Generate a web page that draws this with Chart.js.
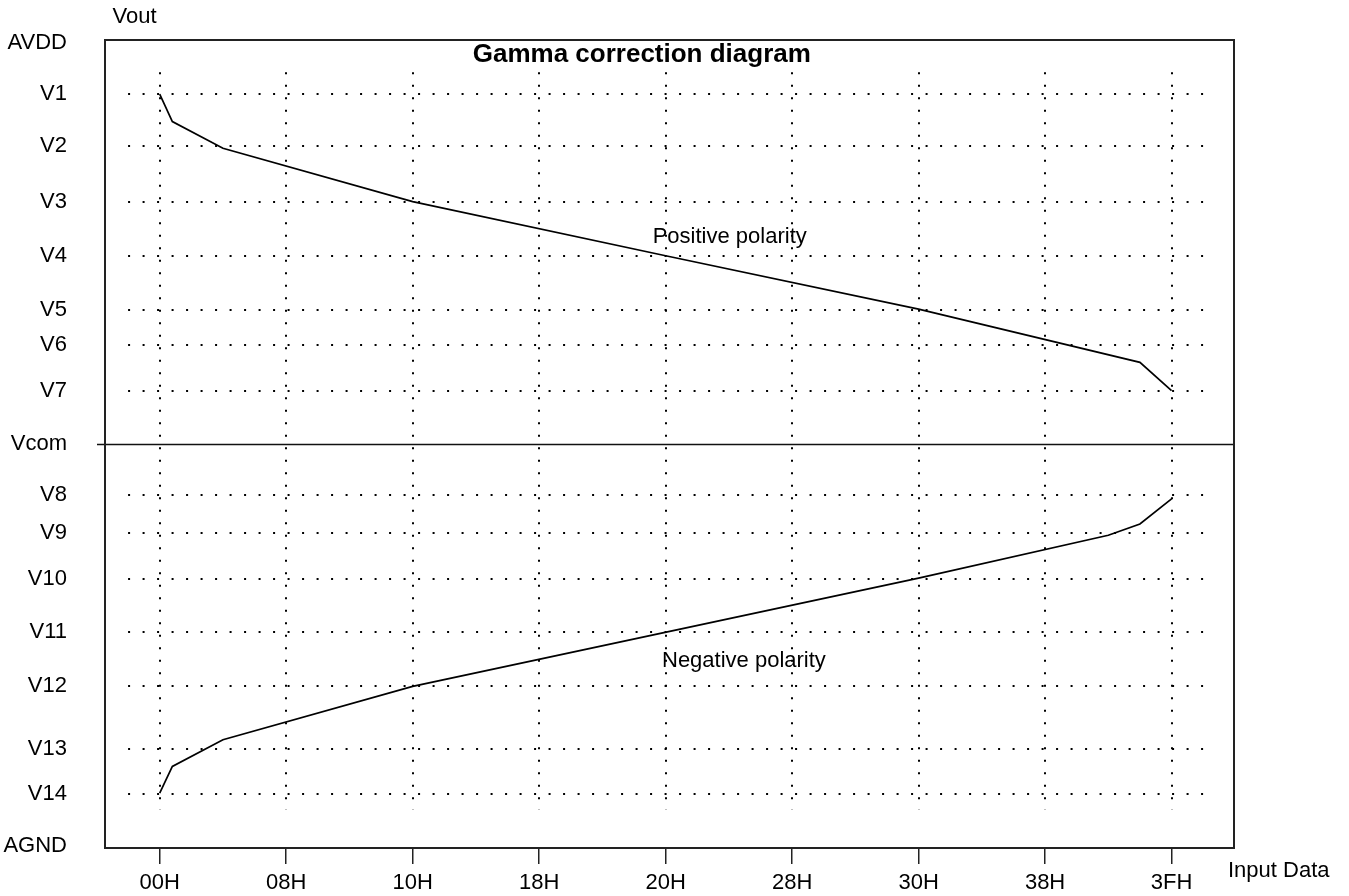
<!DOCTYPE html>
<html>
<head>
<meta charset="utf-8">
<title>Gamma correction diagram</title>
<script src="https://cdn.jsdelivr.net/npm/chart.js@4.4.1/dist/chart.umd.min.js"></script>
<style>
  html, body { margin: 0; padding: 0; background: #fff; }
  canvas { display: block; }
</style>
</head>
<body>
<canvas id="gamma" width="1349" height="896"></canvas>
<script>
// input codes on the x axis (3FH sits one step after 38H, as in the original)
var xTickValues = [0, 8, 16, 24, 32, 40, 48, 56, 64];
var xTickLabels = ['00H', '08H', '10H', '18H', '20H', '28H', '30H', '38H', '3FH'];

// reference voltage levels, AGND = 0 .. AVDD = 100
var levelNames = ['AVDD', 'V1', 'V2', 'V3', 'V4', 'V5', 'V6', 'V7', 'Vcom',
                  'V8', 'V9', 'V10', 'V11', 'V12', 'V13', 'V14', 'AGND'];
var levelValues = [99.6, 93.3, 86.9, 80.0, 73.3, 66.6, 62.3, 56.6, 50.0,
                   43.7, 39.0, 33.3, 26.7, 20.1, 12.3, 6.7, 0.2];

// positive polarity curve
var positiveX = [0, 0.8, 4, 16, 32, 48, 62, 64];
var positiveY = [93.3, 89.9, 86.6, 80.0, 73.3, 66.7, 60.1, 56.6];

// negative polarity curve
var negativeX = [0, 0.8, 4, 16, 48, 60, 62, 64];
var negativeY = [6.8, 10.1, 13.4, 20.0, 33.4, 38.7, 40.1, 43.2];

function toPoints(xs, ys) {
    return xs.map(function(x, i) { return { x: x, y: ys[i] }; });
}

var FONT = "'Liberation Sans', Arial, sans-serif";

var gammaDecor = {
    id: 'gammaDecor',
    beforeDatasetsDraw: function(chart) {
        var ctx = chart.ctx, xs = chart.scales.x, ys = chart.scales.y;
        ctx.save();
        ctx.strokeStyle = '#000';
        ctx.lineWidth = 2;
        // dotted level lines (not for AVDD, Vcom, AGND)
        ctx.setLineDash([2, 12.5]);
        levelNames.forEach(function(name, i) {
            if (name.charAt(0) !== 'V' || name === 'Vcom') return;
            var y = Math.round(ys.getPixelForValue(levelValues[i]));
            ctx.beginPath();
            ctx.moveTo(xs.getPixelForValue(-2), y);
            ctx.lineTo(xs.getPixelForValue(66), y);
            ctx.stroke();
        });
        // dotted code lines
        ctx.setLineDash([2, 10.5]);
        xTickValues.forEach(function(v) {
            var x = Math.round(xs.getPixelForValue(v));
            ctx.beginPath();
            ctx.moveTo(x, ys.getPixelForValue(96));
            ctx.lineTo(x, ys.getPixelForValue(4.7));
            ctx.stroke();
        });
        ctx.restore();
    },
    afterDatasetsDraw: function(chart) {
        var ctx = chart.ctx, a = chart.chartArea, ys = chart.scales.y;
        ctx.save();
        // Vcom line
        var yc = Math.round(ys.getPixelForValue(levelValues[levelNames.indexOf('Vcom')])) + 0.5;
        ctx.strokeStyle = '#111';
        ctx.lineWidth = 1.5;
        ctx.beginPath();
        ctx.moveTo(a.left - 8, yc);
        ctx.lineTo(a.right, yc);
        ctx.stroke();
        // frame
        ctx.strokeStyle = '#222';
        ctx.lineWidth = 2;
        ctx.strokeRect(a.left, a.top, a.right - a.left, a.bottom - a.top);
        ctx.restore();
    },
    afterDraw: function(chart) {
        var ctx = chart.ctx;
        ctx.save();
        ctx.fillStyle = '#000';
        ctx.textBaseline = 'alphabetic';
        ctx.font = '22px ' + FONT;
        ctx.textAlign = 'center';
        ctx.fillText('Vout', 134.5, 22.7);
        ctx.textAlign = 'left';
        ctx.fillText('Input Data', 1228, 876.7);
        ctx.fillText('Positive polarity', 652.7, 243.3);
        ctx.fillText('Negative polarity', 662, 667);
        ctx.font = 'bold 26px ' + FONT;
        ctx.textAlign = 'center';
        ctx.fillText('Gamma correction diagram', 641.8, 61.7);
        ctx.restore();
    }
};

new Chart(document.getElementById('gamma'), {
    type: 'line',
    data: {
        datasets: [{
            label: 'Positive polarity',
            data: toPoints(positiveX, positiveY),
            borderColor: '#000',
            borderWidth: 1.7,
            pointRadius: 0,
            tension: 0,
            fill: false
        }, {
            label: 'Negative polarity',
            data: toPoints(negativeX, negativeY),
            borderColor: '#000',
            borderWidth: 1.7,
            pointRadius: 0,
            tension: 0,
            fill: false
        }]
    },
    options: {
        responsive: false,
        animation: false,
        devicePixelRatio: 1,
        layout: { padding: { top: 40, right: 115, left: 0, bottom: 0 } },
        plugins: {
            legend: { display: false },
            tooltip: { enabled: false }
        },
        scales: {
            x: {
                type: 'linear',
                min: -3.46,
                max: 67.95,
                afterBuildTicks: function(axis) {
                    axis.ticks = xTickValues.map(function(v) { return { value: v }; });
                },
                afterFit: function(axis) {
                    axis.height = 48;
                    axis.paddingLeft = 0;
                    axis.paddingRight = 0;
                },
                border: { display: false },
                grid: {
                    drawOnChartArea: false,
                    drawTicks: true,
                    tickLength: 16,
                    color: '#222',
                    lineWidth: 1.5
                },
                ticks: {
                    autoSkip: false,
                    maxRotation: 0,
                    padding: 6,
                    color: '#000',
                    font: { family: FONT, size: 22 },
                    callback: function(value, index) { return xTickLabels[index]; }
                }
            },
            y: {
                type: 'linear',
                min: 0,
                max: 100,
                afterBuildTicks: function(axis) {
                    axis.ticks = levelValues.map(function(v) { return { value: v }; });
                },
                afterFit: function(axis) {
                    axis.width = 105;
                    axis.paddingTop = 0;
                    axis.paddingBottom = 0;
                },
                border: { display: false },
                grid: { display: false, drawTicks: false },
                ticks: {
                    autoSkip: false,
                    crossAlign: 'near',
                    padding: 38,
                    color: '#000',
                    font: { family: FONT, size: 22 },
                    callback: function(value, index) { return levelNames[index]; }
                }
            }
        }
    },
    plugins: [gammaDecor]
});
</script>
</body>
</html>
